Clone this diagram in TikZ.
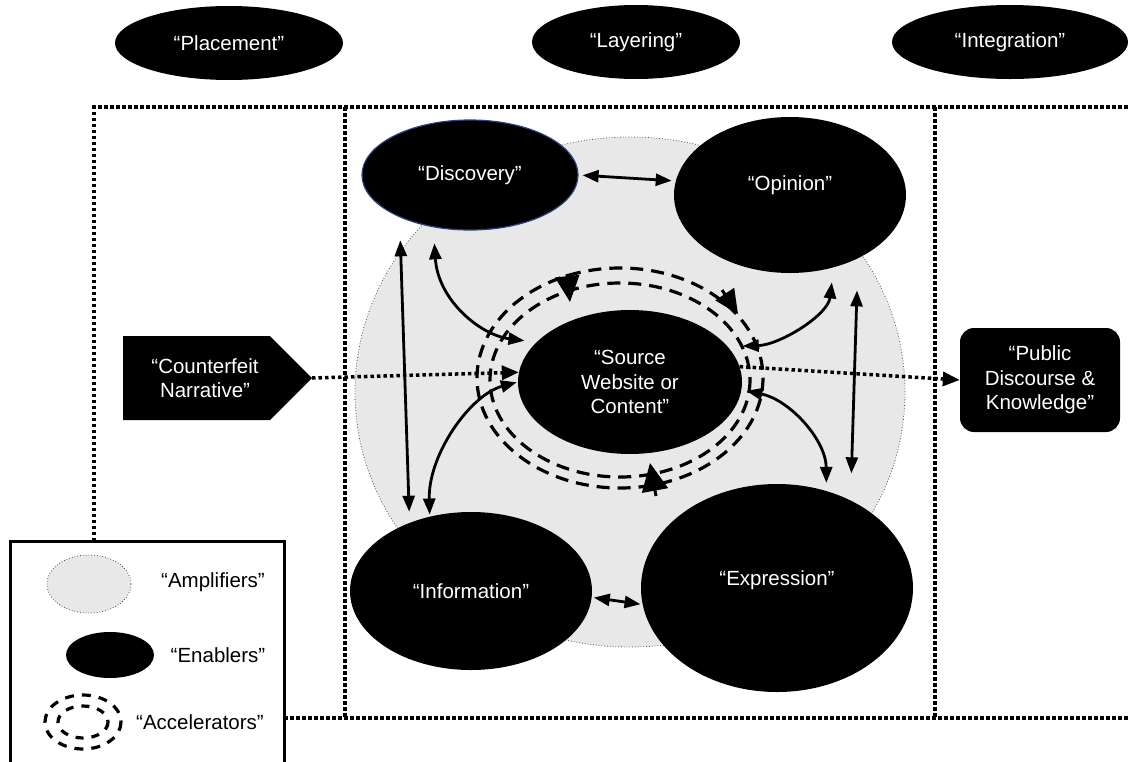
\documentclass[tikz,border=0pt]{standalone}
\usepackage{fontspec}
\setmainfont{Liberation Sans}
\usetikzlibrary{shapes.geometric, arrows.meta}

\newcommand{\lab}{\fontsize{20.5}{24.5}\selectfont}

\tikzset{
  enabler/.style={ellipse, fill=black, text=white, inner sep=0pt, font=\lab, align=center},
  amplifier/.style={ellipse, fill=black!9, draw=black!70, dotted, line width=0.8pt},
  twoway/.style={{Triangle[length=16pt,width=12pt]}-{Triangle[length=16pt,width=12pt]}, line width=2.8pt},
  flow/.style={line width=3.5pt, dash pattern=on 3.5pt off 3pt},
  frame/.style={line width=3.5pt, dash pattern=on 3.5pt off 2.5pt},
  ring/.style={line width=3.2pt, dash pattern=on 13pt off 8pt},
}

\begin{document}
\begin{tikzpicture}[x=1pt, y=-1pt]
  \useasboundingbox (0,0) rectangle (1128,761);

  % phases
  \node[enabler, minimum width=228pt, minimum height=74pt] (placement) at (229,43) {“Placement”};
  \node[enabler, minimum width=208pt, minimum height=74pt] (layering) at (636,42) {“Layering”};
  \node[enabler, minimum width=236pt, minimum height=74pt] (integration) at (1010,42) {“Integration”};

  \draw[frame] (94,541) -- (94,107) -- (1128,107);
  \draw[frame] (284,718) -- (1128,718);
  \draw[frame] (345,107) -- (345,718);
  \draw[frame] (935,107) -- (935,718);

  \node[amplifier, minimum width=550pt, minimum height=510pt] (amplifiers) at (630,392) {};

  % accelerators
  \draw[ring] (620,378) ellipse[x radius=143, y radius=110];
  \draw[ring] (620,380) ellipse[x radius=130, y radius=97];
  \draw[line width=3pt, -{Triangle[length=26pt,width=24pt]}] (567,274) -- (570,302);
  \draw[line width=3pt, -{Triangle[length=24pt,width=22pt]}] (722,290) -- (738,314);
  \draw[line width=3pt, -{Triangle[length=28pt,width=26pt]}] (656,496) -- (650,463);

  % enablers
  \node[enabler, minimum width=216pt, minimum height=110pt, draw={rgb,255:red,45;green,65;blue,125}, line width=1.2pt] (discovery) at (470,175) {“Discovery”};
  \node[enabler, minimum width=232pt, minimum height=156pt, text depth=24pt] (opinion) at (790,195) {“Opinion”};
  \node[enabler, minimum width=224pt, minimum height=144pt] (source) at (630,382) {“Source\\Website or\\Content”};
  \node[enabler, minimum width=242pt, minimum height=158pt] (information) at (471,591) {“Information”};
  \node[enabler, minimum width=272pt, minimum height=208pt, text depth=20pt] (expression) at (777,588) {“Expression”};

  \fill (123,336) -- (270,336) -- (312,378) -- (270,420) -- (123,420) -- cycle;
  \node[text=white, font=\lab, align=center] (counterfeit) at (205,378) {“Counterfeit\\Narrative”};
  \coordinate (tip) at (312,378);

  \node[fill=black, rounded corners=14pt, text=white, font=\lab, align=center, minimum width=160pt, minimum height=104pt] (public) at (1040,380) {“Public\\Discourse \&\\Knowledge”};

  \draw[flow, -{Triangle[length=17pt,width=14pt]}] (tip) -- (source.175);
  \draw[flow, -{Triangle[length=17pt,width=14pt]}] (source.8) -- (public.west);

  \draw[twoway, shorten <=4pt, shorten >=4pt] (discovery.east) -- (opinion.173);
  \draw[twoway, shorten <=23pt, shorten >=11pt] (discovery.211) -- (information.132);
  \draw[twoway, shorten <=16pt, shorten >=12pt] (discovery.235) .. controls (438,300) and (480,335) .. (source.157);
  \draw[twoway, shorten <=2pt, shorten >=1pt] (information.119) .. controls (428,455) and (470,395) .. (source.west);
  \draw[twoway, shorten <=2pt, shorten >=2pt] (information.-3) -- (expression.187);
  \draw[twoway, shorten <=15pt, shorten >=15pt] (opinion.301) .. controls (828,315) and (780,345) .. (source.20);
  \draw[twoway, shorten <=5pt, shorten >=8pt] (source.-4) .. controls (790,400) and (826,440) .. (expression.63);
  \draw[twoway, shorten <=32pt, shorten >=27pt] (opinion.317) -- (expression.50);

  % legend
  \draw[line width=3pt] (10,770) -- (10,541) -- (284,541) -- (284,770);
  \node[amplifier, minimum width=84pt, minimum height=58pt] (keyamp) at (89,584) {};
  \node[font=\lab] (keyamptext) at (213,582) {“Amplifiers”};
  \node[ellipse, fill=black, minimum width=88pt, minimum height=46pt] (keyena) at (110,655) {};
  \node[font=\lab] (keyenatext) at (218,655) {“Enablers”};
  \draw[line width=3.2pt, dash pattern=on 9pt off 8pt] (83,722) ellipse[x radius=38, y radius=27];
  \draw[line width=3.2pt, dash pattern=on 8pt off 8pt] (83,722) ellipse[x radius=25, y radius=16];
  \node[font=\lab] (keyacctext) at (200,722) {“Accelerators”};
\end{tikzpicture}
\end{document}
